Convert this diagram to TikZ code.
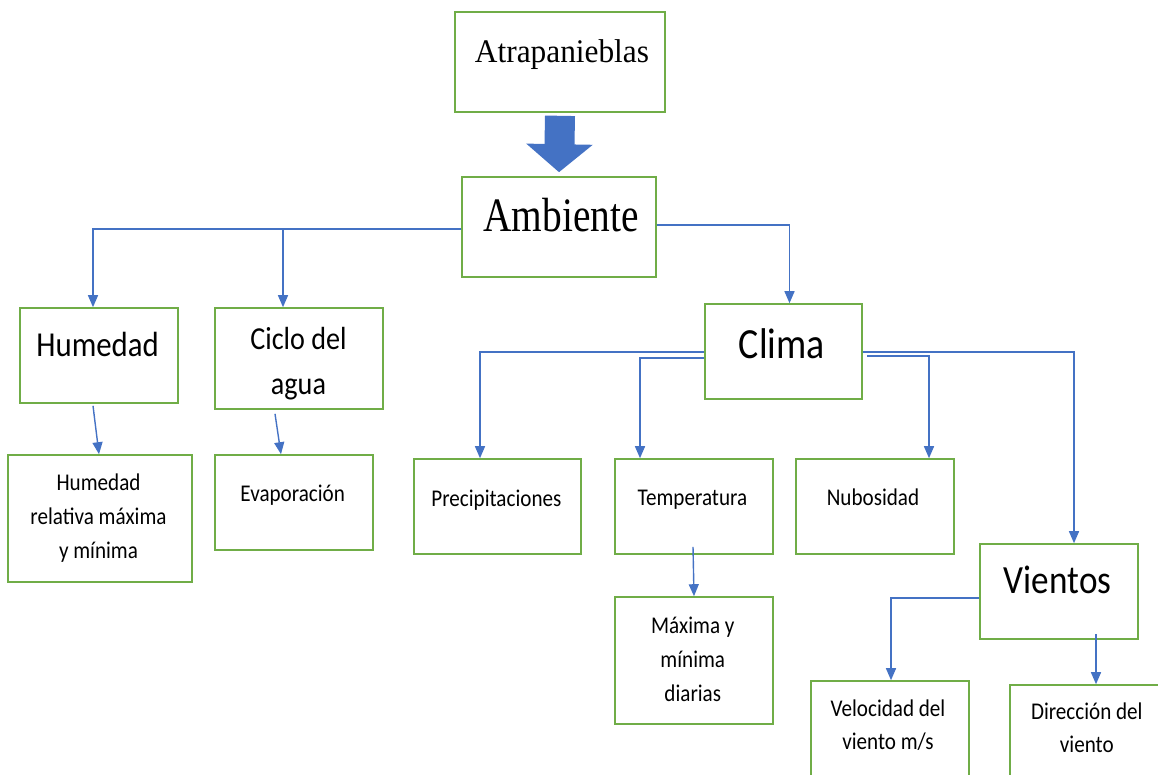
\documentclass[tikz,border=0pt]{standalone}
\usepackage{fontspec}
\setmainfont{Carlito}
\newfontfamily\calf[FakeStretch=0.88]{Carlito}
\newfontfamily\serA[FakeStretch=0.95]{Liberation Serif}
\newfontfamily\serB[FakeStretch=0.82]{Liberation Serif}
\usetikzlibrary{arrows.meta}
\definecolor{boxgreen}{HTML}{70AD47}
\definecolor{lineblue}{HTML}{4472C4}
\begin{document}
\begin{tikzpicture}[x=1pt,y=-1pt,
  box/.style={draw=boxgreen, line width=1.6pt, inner sep=0pt},
  txt/.style={anchor=base, inner sep=0pt, align=center, text=black},
  small/.style={txt, font=\calf\fontsize{24}{34}\selectfont},
  conn/.style={draw=lineblue, line width=1.4pt, -{Triangle[width=10pt,length=12pt]}},
  bigarr/.style={draw=lineblue, line width=30pt, -{Triangle[width=65pt,length=28pt]}}]
\useasboundingbox (0,0) rectangle (1158,774);
\clip (0,0) rectangle (1158,774);
% boxes
\node[box, minimum width=210pt, minimum height=100pt] (atr) at (560,62) {};
\node[box, minimum width=194pt, minimum height=100pt] (amb) at (559,227) {};
\node[box, minimum width=158pt, minimum height=95pt] (hum) at (99,355.5) {};
\node[box, minimum width=168pt, minimum height=101pt] (cic) at (299,358.5) {};
\node[box, minimum width=184pt, minimum height=127pt] (hr) at (100,518.5) {};
\node[box, minimum width=158pt, minimum height=95pt] (eva) at (294,502.5) {};
\node[box, minimum width=167pt, minimum height=95pt] (pre) at (497.5,506.5) {};
\node[box, minimum width=157pt, minimum height=95pt] (cli) at (783.5,351.5) {};
\node[box, minimum width=158pt, minimum height=95pt] (tem) at (694,506.5) {};
\node[box, minimum width=158pt, minimum height=95pt] (nub) at (875,506.5) {};
\node[box, minimum width=158pt, minimum height=95pt] (vie) at (1059,591.5) {};
\node[box, minimum width=158pt, minimum height=127pt] (max) at (694,660.5) {};
\node[box, minimum width=158pt, minimum height=127pt] (vel) at (890,744.5) {};
\node[box, minimum width=158pt, minimum height=127pt] (dir) at (1089,748.5) {};
% texts
\node[txt, font=\serA\fontsize{33}{40}\selectfont] (atrT) at (562,62.7) {Atrapanieblas};
\node[txt, font=\serB\fontsize{48}{56}\selectfont] (ambT) at (561,231.7) {Ambiente};
\node[txt, font=\calf\fontsize{35}{42}\selectfont] (humT) at (97.6,356.7) {Humedad};
\node[txt, font=\calf\fontsize{32}{45}\selectfont] (cicT) at (298.5,394) {Ciclo del\\agua};
\node[small] (hrT) at (98.5,558.3) {Humedad\\relativa máxima\\y mínima};
\node[small] (evaT) at (292.7,501.7) {Evaporación};
\node[small] (preT) at (496.4,506) {Precipitaciones};
\node[txt, font=\calf\fontsize{43}{50}\selectfont] (cliT) at (781.8,358.3) {Clima};
\node[small] (temT) at (692.4,505) {Temperatura};
\node[small] (nubT) at (873,505) {Nubosidad};
\node[txt, font=\calf\fontsize{40}{48}\selectfont] (vieT) at (1057.7,593.3) {Vientos};
\node[small] (maxT) at (692.8,701.7) {Máxima y\\mínima\\diarias};
\node[small, font=\calf\fontsize{24}{33}\selectfont] (velT) at (888,749.3) {Velocidad del\\viento m/s};
\node[small, font=\calf\fontsize{24}{33}\selectfont] (dirT) at (1086.8,752.7) {Dirección del\\viento};
% big arrow
\draw[bigarr] ([yshift=-3pt]atr.south) -- ([yshift=4pt]amb.north);
% connectors
\draw[conn] ([yshift=-2pt]amb.west) -| ([xshift=-6pt]hum.north);
\draw[conn] ([yshift=-2pt]amb.west) -| ([xshift=-16pt]cic.north);
\draw[conn] ([yshift=2pt]amb.east) -| ([xshift=6pt]cli.north);
\draw[conn] ([xshift=-6pt,yshift=-2pt]hum.south) -- ([xshift=-1pt]hr.north);
\draw[conn] ([xshift=-24pt,yshift=-4pt]cic.south) -- ([xshift=-13pt]eva.north);
\draw[conn] ([yshift=-0.5pt]cli.west) -| ([xshift=-17.5pt]pre.north);
\draw[conn] ([yshift=-6.5pt]cli.west) -| ([xshift=-54pt]tem.north);
\draw[conn] ([xshift=4pt,yshift=-4.5pt]cli.east) -| ([xshift=54pt]nub.north);
\draw[conn] ([yshift=-0.5pt]cli.east) -| ([xshift=15pt]vie.north);
\draw[conn] ([xshift=-1pt,yshift=8pt]tem.south) -- (max.north);
\draw[conn] ([yshift=-6.5pt]vie.west) -| ([xshift=1pt]vel.north);
\draw[conn] ([xshift=37pt,yshift=6pt]vie.south) -- ([xshift=7pt]dir.north);
\end{tikzpicture}
\end{document}
